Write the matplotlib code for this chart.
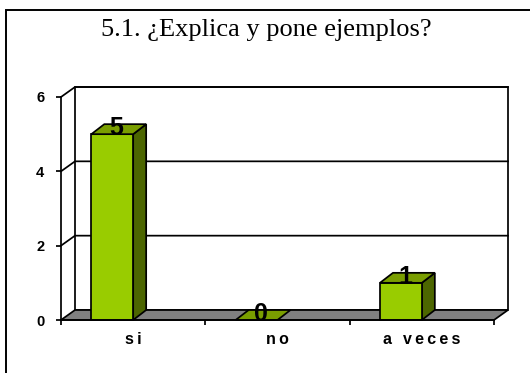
import matplotlib
matplotlib.use("Agg")
import matplotlib.pyplot as plt
from matplotlib.patches import Polygon, Rectangle

# ---- data -------------------------------------------------------------
categories = ["si", "no", "a veces"]
values = [5, 0, 1]
y_ticks = [0, 2, 4, 6]
title = "5.1. ¿Explica y pone ejemplos?"

# ---- style ------------------------------------------------------------
FRONT = "#99CC00"
TOP = "#7A9E00"
SIDE = "#4C6600"
FLOOR = "#808080"
SANS = ["Liberation Sans", "DejaVu Sans"]
SERIF = "Liberation Serif"
TRACK = "\u2009"   # extra tracking between letters of category names


def tracked(s):
    return TRACK.join(s)


W, H, DPI = 530, 373, 100
fig = plt.figure(figsize=(W / DPI, H / DPI), dpi=DPI)
fig.patch.set_facecolor("white")

# front plane of the 3-D box, in pixels from the top-left corner
left_px, right_px, top_px, bottom_px = 61, 494, 97, 320
ax = fig.add_axes([left_px / W, 1 - bottom_px / H,
                   (right_px - left_px) / W, (bottom_px - top_px) / H])
n = len(categories)
x0, x1 = -0.5, n - 0.5
y0, y1 = 0, 6
ax.set_xlim(x0, x1)
ax.set_ylim(y0, y1)
ax.patch.set_visible(False)

# depth offsets (pixels) converted to data units
ux = (x1 - x0) / (right_px - left_px)
uy = (y1 - y0) / (bottom_px - top_px)
ddx, ddy = 14 * ux, 10 * uy        # walls / floor
bdx, bdy = 13 * ux, 10 * uy        # columns

LW = 1.25
common = dict(clip_on=False, joinstyle="miter")

# back wall
ax.add_patch(Polygon([(x0 + ddx, y0 + ddy), (x1 + ddx, y0 + ddy),
                      (x1 + ddx, y1 + ddy), (x0 + ddx, y1 + ddy)],
                     closed=True, facecolor="white", edgecolor="black",
                     lw=LW, zorder=1, **common))
# gridlines running along the side wall and across the back wall
for t in y_ticks[1:]:
    ax.plot([x0, x0 + ddx, x1 + ddx], [t, t + ddy, t + ddy],
            color="black", lw=LW, clip_on=False, zorder=1.5)

# floor
ax.add_patch(Polygon([(x0, y0), (x1, y0), (x1 + ddx, y0 + ddy), (x0 + ddx, y0 + ddy)],
                     closed=True, facecolor=FLOOR, edgecolor="black",
                     lw=LW, zorder=2, **common))

# columns
bar_w = 0.29
bar_shift = -0.29
for i, v in enumerate(values):
    xl = i + bar_shift
    xr = xl + bar_w
    if v > 0:
        ax.add_patch(Polygon([(xr, 0), (xr + bdx, bdy), (xr + bdx, v + bdy), (xr, v)],
                             closed=True, facecolor=SIDE, edgecolor="black",
                             lw=LW, zorder=3, **common))
        ax.add_patch(Polygon([(xl, 0), (xr, 0), (xr, v), (xl, v)],
                             closed=True, facecolor=FRONT, edgecolor="black",
                             lw=LW, zorder=3, **common))
    ax.add_patch(Polygon([(xl, v), (xr, v), (xr + bdx, v + bdy), (xl + bdx, v + bdy)],
                         closed=True, facecolor=TOP, edgecolor="black",
                         lw=LW, zorder=3, **common))
    ax.annotate(str(v), ((xl + xr) / 2, v), xytext=(4, -1),
                textcoords="offset pixels", ha="center", va="baseline",
                fontsize=18, fontweight="bold", family=SANS, zorder=5,
                annotation_clip=False)

# axes lines and ticks
for s in ("top", "right"):
    ax.spines[s].set_visible(False)
for s in ("left", "bottom"):
    ax.spines[s].set_linewidth(LW)
    ax.spines[s].set_zorder(4)

ax.set_yticks(y_ticks)
ax.set_yticklabels([str(t) for t in y_ticks], fontsize=10.5,
                   fontweight="bold", family=SANS)
ax.tick_params(axis="y", direction="out", length=3.5, width=LW, pad=8.5)

ax.set_xticks([x0 + k for k in range(n + 1)])
ax.set_xticklabels([])
ax.tick_params(axis="x", which="major", direction="out", length=3.8, width=LW)
ax.set_xticks(range(n), minor=True)
ax.set_xticklabels([tracked(c) for c in categories], minor=True, fontsize=11.5,
                   fontweight="bold", family=SANS)
ax.tick_params(axis="x", which="minor", length=0, pad=9)

# title and outer frame
fig.text(266 / W, 1 - 30 / H, title, ha="center", va="center",
         family=SERIF, fontsize=19)
fig.add_artist(Rectangle((6 / W, -0.2), 1.2, (H - 10) / H + 0.2,
                         transform=fig.transFigure, fill=False,
                         edgecolor="black", lw=1.4))

fig.savefig("out.png", dpi=DPI, facecolor="white")
